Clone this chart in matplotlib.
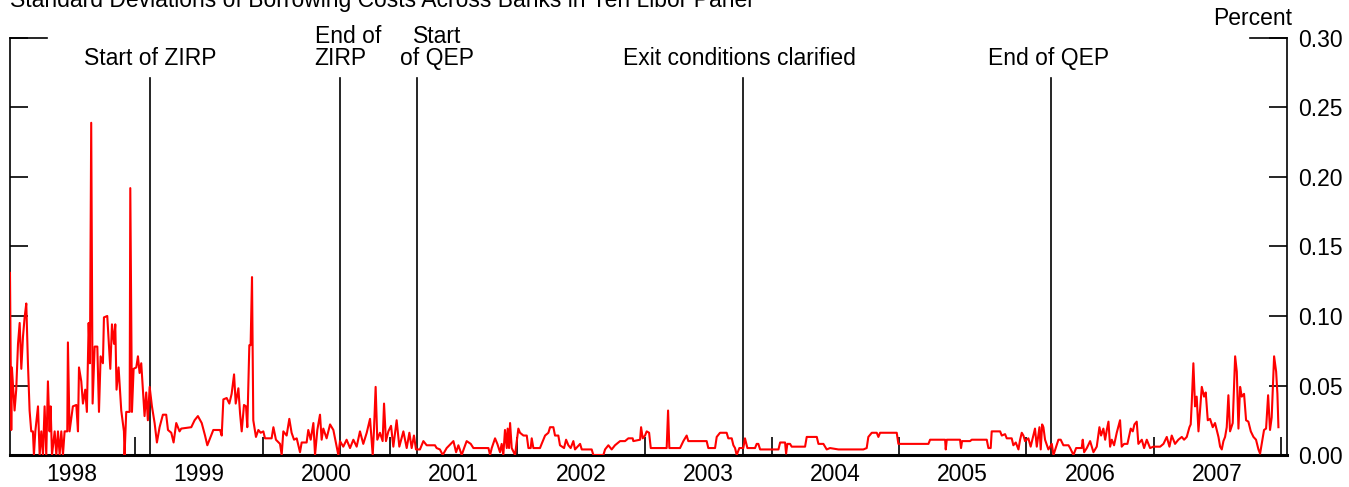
import numpy as np
import matplotlib
matplotlib.use('Agg')
import matplotlib.pyplot as plt

plt.rcParams['font.family'] = ['Liberation Sans', 'DejaVu Sans']

# daily std. dev., in decimal years / percent
dates_98 = [1998.016, 1998.026, 1998.031, 1998.052, 1998.065, 1998.079, 1998.092, 1998.105,
            1998.118, 1998.131, 1998.144, 1998.157, 1998.170, 1998.183, 1998.196, 1998.204,
            1998.215, 1998.236, 1998.249, 1998.262, 1998.275, 1998.288, 1998.301, 1998.314,
            1998.327, 1998.335, 1998.346, 1998.367, 1998.380, 1998.393, 1998.406, 1998.419,
            1998.432, 1998.445, 1998.466, 1998.471, 1998.484, 1998.510, 1998.537, 1998.550,
            1998.558, 1998.576, 1998.589, 1998.607, 1998.620, 1998.634, 1998.644, 1998.654,
            1998.665, 1998.681, 1998.702, 1998.715, 1998.728, 1998.746, 1998.754, 1998.780,
            1998.791, 1998.804, 1998.817, 1998.833, 1998.843, 1998.853, 1998.869, 1998.890,
            1998.911, 1998.916, 1998.929, 1998.956, 1998.961, 1998.974, 1998.987]
vals_98 = [0.131, 0.018, 0.063, 0.032, 0.047, 0.080, 0.095, 0.062,
           0.085, 0.099, 0.109, 0.066, 0.032, 0.017, 0.017, 0.0,
           0.017, 0.035, 0.0, 0.017, 0.0, 0.035, 0.0, 0.053,
           0.017, 0.035, 0.0, 0.017, 0.0, 0.017, 0.0, 0.017,
           0.0, 0.017, 0.017, 0.081, 0.017, 0.035, 0.036, 0.017,
           0.063, 0.053, 0.037, 0.047, 0.031, 0.095, 0.066, 0.239,
           0.037, 0.078, 0.078, 0.031, 0.071, 0.066, 0.099, 0.100,
           0.083, 0.062, 0.094, 0.080, 0.094, 0.047, 0.063, 0.032,
           0.017, 0.0, 0.031, 0.031, 0.192, 0.031, 0.062]

dates_99 = [1999.008, 1999.021, 1999.034, 1999.047, 1999.060, 1999.073, 1999.086, 1999.099,
            1999.113, 1999.131, 1999.152, 1999.170, 1999.191, 1999.217, 1999.243, 1999.257,
            1999.283, 1999.301, 1999.322, 1999.348, 1999.361, 1999.440, 1999.466, 1999.492,
            1999.522, 1999.548, 1999.566, 1999.613, 1999.666, 1999.679, 1999.692, 1999.718,
            1999.739, 1999.757, 1999.776, 1999.789, 1999.810, 1999.823, 1999.836, 1999.854,
            1999.870, 1999.880, 1999.896, 1999.906, 1999.917, 1999.927, 1999.948, 1999.967,
            1999.985]
vals_99 = [0.063, 0.071, 0.059, 0.066, 0.047, 0.028, 0.045, 0.025,
           0.049, 0.035, 0.023, 0.009, 0.020, 0.029, 0.029, 0.018,
           0.016, 0.009, 0.023, 0.017, 0.019, 0.020, 0.025, 0.028,
           0.023, 0.014, 0.007, 0.018, 0.018, 0.014, 0.040, 0.041,
           0.037, 0.044, 0.058, 0.037, 0.048, 0.030, 0.017, 0.036,
           0.035, 0.020, 0.079, 0.079, 0.128, 0.025, 0.013, 0.018,
           0.016]

dates_00 = [2000.006, 2000.019, 2000.071, 2000.085, 2000.105, 2000.137, 2000.150, 2000.163,
            2000.189, 2000.210, 2000.228, 2000.247, 2000.268, 2000.294, 2000.307, 2000.346,
            2000.359, 2000.378, 2000.399, 2000.412, 2000.430, 2000.451, 2000.464, 2000.477,
            2000.503, 2000.530, 2000.556, 2000.582, 2000.595, 2000.608, 2000.634, 2000.660,
            2000.687, 2000.713, 2000.739, 2000.765, 2000.791, 2000.818, 2000.844, 2000.865,
            2000.875, 2000.888, 2000.901, 2000.922, 2000.943, 2000.954, 2000.969, 2000.988]
vals_00 = [0.017, 0.012, 0.012, 0.020, 0.011, 0.008, 0.0, 0.017,
           0.014, 0.026, 0.016, 0.011, 0.012, 0.002, 0.009, 0.009,
           0.018, 0.011, 0.023, 0.0, 0.018, 0.029, 0.011, 0.019,
           0.012, 0.022, 0.018, 0.006, 0.0, 0.010, 0.006, 0.011,
           0.005, 0.011, 0.006, 0.017, 0.008, 0.016, 0.026, 0.0,
           0.018, 0.049, 0.011, 0.016, 0.010, 0.037, 0.010, 0.017]

dates_01 = [2001.009, 2001.027, 2001.053, 2001.074, 2001.106, 2001.132, 2001.153, 2001.171,
            2001.189, 2001.205, 2001.236, 2001.263, 2001.289, 2001.354, 2001.367, 2001.393,
            2001.415, 2001.446, 2001.499, 2001.520, 2001.538, 2001.564, 2001.583, 2001.603,
            2001.635, 2001.656, 2001.774, 2001.787, 2001.800, 2001.826, 2001.844, 2001.865,
            2001.878, 2001.891, 2001.904, 2001.918, 2001.925, 2001.936, 2001.944, 2001.957,
            2001.983]
vals_01 = [0.021, 0.006, 0.025, 0.006, 0.017, 0.005, 0.016, 0.005,
           0.014, 0.004, 0.004, 0.010, 0.007, 0.007, 0.005, 0.004,
           0.0, 0.005, 0.010, 0.002, 0.007, 0.0, 0.005, 0.010,
           0.008, 0.005, 0.005, 0.0, 0.005, 0.012, 0.008, 0.002,
           0.008, 0.0, 0.018, 0.005, 0.019, 0.005, 0.023, 0.005,
           0.0]

dates_02 = [2002.009, 2002.022, 2002.049, 2002.075, 2002.088, 2002.106, 2002.114, 2002.127,
            2002.179, 2002.192, 2002.219, 2002.245, 2002.258, 2002.284, 2002.297, 2002.323,
            2002.336, 2002.368, 2002.384, 2002.402, 2002.420, 2002.441, 2002.454, 2002.494,
            2002.507, 2002.585, 2002.598, 2002.677, 2002.690, 2002.716, 2002.742, 2002.768,
            2002.808, 2002.847, 2002.873, 2002.907, 2002.912, 2002.965, 2002.973, 2002.986]
vals_02 = [0.019, 0.016, 0.014, 0.014, 0.005, 0.005, 0.012, 0.005,
           0.005, 0.008, 0.014, 0.016, 0.020, 0.020, 0.014, 0.014,
           0.007, 0.005, 0.011, 0.007, 0.005, 0.010, 0.004, 0.008,
           0.004, 0.004, 0.0, 0.0, 0.004, 0.007, 0.004, 0.007,
           0.010, 0.010, 0.012, 0.012, 0.010, 0.011, 0.020, 0.012]

dates_03 = [2003.004, 2003.017, 2003.036, 2003.049, 2003.174, 2003.185, 2003.195, 2003.279,
            2003.305, 2003.331, 2003.344, 2003.488, 2003.501, 2003.554, 2003.567, 2003.593,
            2003.645, 2003.658, 2003.685, 2003.698, 2003.711, 2003.724, 2003.745, 2003.776,
            2003.789, 2003.808, 2003.855, 2003.868, 2003.881, 2003.894, 2003.908]
vals_03 = [0.014, 0.017, 0.016, 0.005, 0.005, 0.032, 0.005, 0.005,
           0.010, 0.014, 0.010, 0.010, 0.005, 0.005, 0.013, 0.016,
           0.016, 0.012, 0.012, 0.007, 0.005, 0.0, 0.005, 0.005,
           0.012, 0.005, 0.005, 0.005, 0.008, 0.008, 0.004]

dates_04 = [2004.052, 2004.065, 2004.104, 2004.112, 2004.122, 2004.143, 2004.156, 2004.261,
            2004.274, 2004.353, 2004.366, 2004.405, 2004.418, 2004.431, 2004.457, 2004.523,
            2004.719, 2004.745, 2004.758, 2004.785, 2004.824, 2004.837, 2004.850, 2004.981,
            2004.994]
vals_04 = [0.004, 0.009, 0.009, 0.001, 0.008, 0.008, 0.006, 0.006,
           0.013, 0.013, 0.008, 0.008, 0.006, 0.004, 0.005, 0.004,
           0.004, 0.005, 0.013, 0.016, 0.016, 0.013, 0.016, 0.016,
           0.008]

dates_05 = [2005.230, 2005.243, 2005.361, 2005.366, 2005.374, 2005.478, 2005.486, 2005.494,
            2005.557, 2005.570, 2005.688, 2005.701, 2005.719, 2005.727, 2005.793, 2005.806,
            2005.832, 2005.845, 2005.884, 2005.897, 2005.916, 2005.937, 2005.950, 2005.963,
            2005.976, 2005.989]
vals_05 = [0.008, 0.011, 0.011, 0.004, 0.011, 0.011, 0.005, 0.010,
           0.010, 0.011, 0.011, 0.005, 0.005, 0.017, 0.017, 0.014,
           0.015, 0.012, 0.012, 0.007, 0.009, 0.004, 0.011, 0.016,
           0.014, 0.010]

dates_06 = [2006.015, 2006.033, 2006.054, 2006.067, 2006.081, 2006.102, 2006.112, 2006.123,
            2006.133, 2006.146, 2006.172, 2006.199, 2006.212, 2006.233, 2006.251, 2006.269,
            2006.290, 2006.330, 2006.343, 2006.369, 2006.390, 2006.434, 2006.442, 2006.453,
            2006.474, 2006.500, 2006.526, 2006.552, 2006.573, 2006.586, 2006.604, 2006.618,
            2006.631, 2006.644, 2006.657, 2006.670, 2006.688, 2006.709, 2006.735, 2006.748,
            2006.767, 2006.793, 2006.819, 2006.835, 2006.848, 2006.866, 2006.879, 2006.906,
            2006.924, 2006.945, 2006.971, 2006.997]
vals_06 = [0.012, 0.006, 0.014, 0.019, 0.006, 0.020, 0.004, 0.022,
           0.020, 0.011, 0.004, 0.008, 0.0, 0.006, 0.011, 0.011,
           0.007, 0.007, 0.005, 0.0, 0.005, 0.005, 0.011, 0.002,
           0.005, 0.010, 0.002, 0.006, 0.020, 0.014, 0.019, 0.011,
           0.018, 0.024, 0.006, 0.011, 0.007, 0.016, 0.025, 0.006,
           0.008, 0.008, 0.019, 0.017, 0.022, 0.024, 0.008, 0.011,
           0.005, 0.011, 0.005, 0.006]

dates_07 = [2007.050, 2007.076, 2007.102, 2007.123, 2007.141, 2007.167, 2007.193, 2007.220,
            2007.238, 2007.259, 2007.280, 2007.290, 2007.298, 2007.311, 2007.324, 2007.337,
            2007.351, 2007.377, 2007.395, 2007.408, 2007.424, 2007.442, 2007.463, 2007.481,
            2007.508, 2007.521, 2007.534, 2007.547, 2007.560, 2007.573, 2007.586, 2007.599,
            2007.620, 2007.639, 2007.652, 2007.665, 2007.678, 2007.691, 2007.709, 2007.725,
            2007.743, 2007.762, 2007.783, 2007.803, 2007.822, 2007.835, 2007.848, 2007.866,
            2007.882, 2007.898, 2007.913, 2007.926, 2007.945, 2007.961, 2007.971, 2007.979]
vals_07 = [0.006, 0.008, 0.013, 0.006, 0.014, 0.008, 0.011, 0.013,
           0.011, 0.013, 0.020, 0.022, 0.037, 0.066, 0.035, 0.042,
           0.017, 0.049, 0.042, 0.045, 0.025, 0.026, 0.020, 0.023,
           0.013, 0.006, 0.004, 0.010, 0.013, 0.020, 0.043, 0.017,
           0.023, 0.071, 0.060, 0.019, 0.049, 0.042, 0.044, 0.025,
           0.024, 0.017, 0.013, 0.011, 0.004, 0.001, 0.008, 0.018,
           0.019, 0.043, 0.018, 0.027, 0.071, 0.060, 0.044, 0.020]

dates = np.concatenate([dates_98, dates_99, dates_00, dates_01, dates_02,
                        dates_03, dates_04, dates_05, dates_06, dates_07])
vals = np.concatenate([vals_98, vals_99, vals_00, vals_01, vals_02,
                       vals_03, vals_04, vals_05, vals_06, vals_07])

events = ['Start of ZIRP', 'End of\nZIRP', 'Start\nof QEP', 'Exit conditions clarified', 'End of QEP']
event_dates = [1999.115, 2000.61, 2001.21, 2003.77, 2006.19]
event_text_x = [1999.115, 2000.67, 2001.37, 2003.745, 2006.17]
event_align = ['center', 'left', 'center', 'center', 'center']

years = list(range(1998, 2008))
yticks = [0.0, 0.05, 0.10, 0.15, 0.20, 0.25, 0.30]

FS = 16.5

fig = plt.figure(figsize=(13.49, 4.87), dpi=100)
ax = fig.add_axes([0.0074, 0.0657, 0.9467, 0.8563])

ax.plot(dates, vals, color='#ff0000', lw=1.5, zorder=3)

for txt, d, tx, al in zip(events, event_dates, event_text_x, event_align):
    ax.axvline(d, ymin=0, ymax=0.904, color='black', lw=1.2, zorder=2)
    ax.text(tx, 0.2806, txt, ha='center', va='baseline', multialignment=al,
            fontsize=FS, linespacing=0.92)

ax.set_xlim(1998.016, 2008.047)
ax.set_ylim(0, 0.30)

ax.set_xticks([y + 1 for y in years])
ax.set_xticklabels([])
ax.set_xticks([y + 0.5 for y in years], minor=True)
ax.set_xticklabels([str(y) for y in years], minor=True, fontsize=FS)
ax.tick_params(axis='x', which='major', direction='in', length=13, width=1.2)
ax.tick_params(axis='x', which='minor', length=0, pad=6)

ax.set_yticks(yticks)
ax.set_yticklabels(['%.2f' % v for v in yticks], fontsize=FS)
ax.tick_params(axis='y', direction='in', length=13, width=1.2,
               left=True, right=True, labelleft=False, labelright=True, pad=8)

# longer top ticks at 0.30
ax.plot([0, 0.029], [1, 1], transform=ax.transAxes, color='black', lw=1.2, clip_on=False)
ax.plot([0.971, 1], [1, 1], transform=ax.transAxes, color='black', lw=1.2, clip_on=False)

ax.spines['top'].set_visible(False)
ax.spines['left'].set_linewidth(1.2)
ax.spines['right'].set_linewidth(1.2)
ax.spines['bottom'].set_linewidth(2.2)

ax.text(1.004, 1.02, 'Percent', transform=ax.transAxes, ha='right', va='bottom', fontsize=FS)
fig.text(0.0074, 1 - 7 / 487, 'Standard Deviations of Borrowing Costs Across Banks in Yen Libor Panel',
         ha='left', va='baseline', fontsize=FS)

fig.savefig('out.png', dpi=100)
